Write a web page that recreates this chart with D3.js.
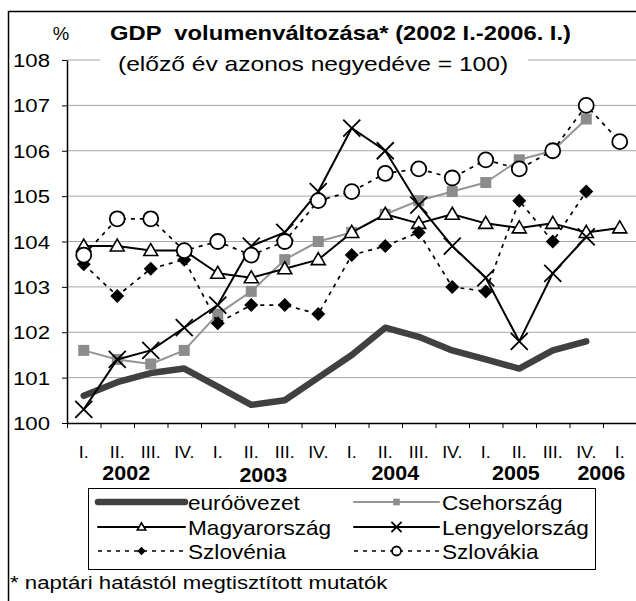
<!DOCTYPE html>
<html>
<head>
<meta charset="utf-8">
<script src="https://cdn.jsdelivr.net/npm/d3@7"></script>
<style>
  body { margin: 0; background: #fff; }
  text { font-family: "Liberation Sans", Arial, sans-serif; fill: #000; white-space: pre; }
</style>
</head>
<body>
<script>
// quarters 2002 I. - 2006 I.
const quarters = ["I.", "II.", "III.", "IV.", "I.", "II.", "III.", "IV.", "I.", "II.", "III.", "IV.", "I.", "II.", "III.", "IV.", "I."];
const years = ["2002", "2003", "2004", "2005", "2006"];

const euro     = [100.6, 100.9, 101.1, 101.2, 100.8, 100.4, 100.5, 101.0, 101.5, 102.1, 101.9, 101.6, 101.4, 101.2, 101.6, 101.8, null];
const czech    = [101.6, 101.4, 101.3, 101.6, 102.4, 102.9, 103.6, 104.0, 104.2, 104.6, 104.9, 105.1, 105.3, 105.8, 106.0, 106.7, null];
const hungary  = [103.9, 103.9, 103.8, 103.8, 103.3, 103.2, 103.4, 103.6, 104.2, 104.6, 104.4, 104.6, 104.4, 104.3, 104.4, 104.2, 104.3];
const poland   = [100.3, 101.4, 101.6, 102.1, 102.6, 103.9, 104.2, 105.1, 106.5, 106.0, 104.8, 103.9, 103.2, 101.8, 103.3, 104.1, null];
const slovenia = [103.5, 102.8, 103.4, 103.6, 102.2, 102.6, 102.6, 102.4, 103.7, 103.9, 104.2, 103.0, 102.9, 104.9, 104.0, 105.1, null];
const slovakia = [103.7, 104.5, 104.5, 103.8, 104.0, 103.7, 104.0, 104.9, 105.1, 105.5, 105.6, 105.4, 105.8, 105.6, 106.0, 107.0, 106.2];

const names = ["euróövezet", "Csehország", "Magyarország", "Lengyelország", "Szlovénia", "Szlovákia"];

let width = 636,
  height = 601;

// where the year labels sit, in quarter units
let yearAt = [1.27, 5.36, 9.3, 12.9, 15.45];

let svg = d3.select("body").append("svg")
  .attr("width", width)
  .attr("height", height);

let x = d3.scaleBand()
  .domain(d3.range(quarters.length))
  .range([67, 636.5]);

let xEdge = d3.scaleLinear()
  .domain([0, quarters.length])
  .range([67, 636.5]);

let y = d3.scaleLinear()
  .domain([100, 108])
  .range([423, 60]);

let cx = i => x(i) + x.bandwidth() / 2;

function label(g, px, py, str, size, sx, opts) {
  opts = opts || {};
  return g.append("text")
    .attr("transform", `translate(${px},${py}) scale(${sx},1)`)
    .attr("font-size", size)
    .attr("font-weight", opts.bold ? "bold" : null)
    .attr("text-anchor", opts.anchor || "start")
    .text(str);
}

const series = [
  { name: names[0], values: euro, stroke: "#404040", width: 6.5, dash: null, marker: null },
  { name: names[1], values: czech, stroke: "#959595", width: 2, dash: null, marker: "square" },
  { name: names[2], values: hungary, stroke: "#000", width: 2, dash: null, marker: "triangle" },
  { name: names[3], values: poland, stroke: "#000", width: 2, dash: null, marker: "cross" },
  { name: names[4], values: slovenia, stroke: "#000", width: 1.7, dash: "4,5", marker: "diamond" },
  { name: names[5], values: slovakia, stroke: "#000", width: 1.7, dash: "4,5", marker: "circle" }
];

// outer frame
svg.append("rect")
  .attr("x", 8.5).attr("y", 11.5)
  .attr("width", 660).attr("height", 620)
  .attr("fill", "none")
  .attr("stroke", "#000")
  .attr("stroke-width", 1.5);

// grid
svg.append("g")
  .selectAll("line")
  .data(y.ticks(8).filter(d => d > 100))
  .enter().append("line")
  .attr("x1", 67).attr("x2", 636.5)
  .attr("y1", d => y(d)).attr("y2", d => y(d))
  .attr("stroke", "#a6a6a6")
  .attr("stroke-width", 1);

// y axis
let yAxis = svg.append("g")
  .attr("transform", "translate(67,0)")
  .call(d3.axisLeft(y).ticks(8).tickSize(5).tickSizeOuter(0));
yAxis.select(".domain").attr("stroke", "#000").attr("stroke-width", 1.5);
yAxis.selectAll(".tick line").attr("stroke", "#000");
yAxis.selectAll(".tick text")
  .attr("x", null).attr("dy", null)
  .attr("transform", "translate(-17,6.5) scale(1.2,1)")
  .attr("font-size", 18.5)
  .attr("font-family", null);

// x axis
let xAxis = svg.append("g")
  .attr("transform", "translate(0,423)")
  .call(d3.axisBottom(xEdge).tickValues(d3.range(quarters.length)).tickSize(5).tickSizeOuter(0).tickFormat(""));
xAxis.select(".domain").attr("stroke", "#000").attr("stroke-width", 1.5);
xAxis.selectAll(".tick line").attr("stroke", "#000");

let labels = svg.append("g");
quarters.forEach((q, i) => label(labels, cx(i), 458, q, 16, 1.12, { anchor: "middle" }));
years.forEach((yr, i) => label(labels, xEdge(yearAt[i] + 0.5), i === 1 ? 482 : 480, yr, 20.5, 1.05, { bold: true, anchor: "middle" }));

// title block
svg.append("rect")
  .attr("x", 100).attr("y", 50)
  .attr("width", 428).attr("height", 28)
  .attr("fill", "#fff");
label(svg, 61, 40, "%", 18.5, 1.0, { anchor: "middle" });
label(svg, 110, 40, "GDP  volumenváltozása* (2002 I.-2006. I.)", 19.5, 1.22, { bold: true });
label(svg, 118, 71, "(előző év azonos negyedéve = 100)", 20.5, 1.2);

function drawMarker(g, type, size) {
  let s = size;
  if (type === "square") {
    g.append("rect").attr("x", -s * 0.55).attr("y", -s * 0.55)
      .attr("width", s * 1.1).attr("height", s * 1.1)
      .attr("fill", "#8c8c8c");
  } else if (type === "triangle") {
    g.append("path").attr("d", `M0,${-s * 0.7}L${s * 0.7},${s * 0.5}L${-s * 0.7},${s * 0.5}Z`)
      .attr("fill", "#fff").attr("stroke", "#000").attr("stroke-width", 1.6);
  } else if (type === "cross") {
    let h = s * 0.85;
    g.append("path").attr("d", `M${-h},${-h}L${h},${h}M${-h},${h}L${h},${-h}`)
      .attr("fill", "none").attr("stroke", "#000").attr("stroke-width", 1.8);
  } else if (type === "diamond") {
    g.append("path").attr("d", `M0,${-s * 0.7}L${s * 0.7},0L0,${s * 0.7}L${-s * 0.7},0Z`)
      .attr("fill", "#000");
  } else if (type === "circle") {
    g.append("circle").attr("r", s * 0.75)
      .attr("fill", "#fff").attr("stroke", "#000").attr("stroke-width", 1.8);
  }
}

let line = d3.line()
  .defined(d => d != null)
  .x((d, i) => cx(i))
  .y(d => y(d));

let plot = svg.append("g");
series.forEach(s => {
  plot.append("path")
    .datum(s.values)
    .attr("d", line)
    .attr("fill", "none")
    .attr("stroke", s.stroke)
    .attr("stroke-width", s.width)
    .attr("stroke-dasharray", s.dash)
    .attr("stroke-linejoin", "round")
    .attr("stroke-linecap", s.dash ? "butt" : "round");
  if (s.marker) {
    s.values.forEach((v, i) => {
      if (v == null) return;
      let m = plot.append("g").attr("transform", `translate(${cx(i)},${y(v)})`);
      drawMarker(m, s.marker, 10);
    });
  }
});

// legend
let legend = svg.append("g");
legend.append("rect")
  .attr("x", 88.5).attr("y", 488.5)
  .attr("width", 507).attr("height", 81)
  .attr("fill", "#fff")
  .attr("stroke", "#000")
  .attr("stroke-width", 1);

let rowY = [502, 527, 551];
series.forEach((s, k) => {
  let col = k % 2, row = Math.floor(k / 2);
  let x0 = col ? 354 : 98, x1 = col ? 439 : 185;
  let ly = rowY[row];
  legend.append("line")
    .attr("x1", x0).attr("x2", x1)
    .attr("y1", ly).attr("y2", ly)
    .attr("stroke", s.stroke)
    .attr("stroke-width", s.width)
    .attr("stroke-dasharray", s.dash)
    .attr("stroke-linecap", s.dash ? "butt" : "round");
  if (s.marker) {
    let m = legend.append("g").attr("transform", `translate(${(x0 + x1) / 2},${ly})`);
    drawMarker(m, s.marker, 6);
  }
  label(legend, x1 + 3, ly + 7.5, s.name, 20, 1.13);
});

// footnote
label(svg, 10, 589, "* naptári hatástól megtisztított mutatók", 18.5, 1.2);
</script>
</body>
</html>
